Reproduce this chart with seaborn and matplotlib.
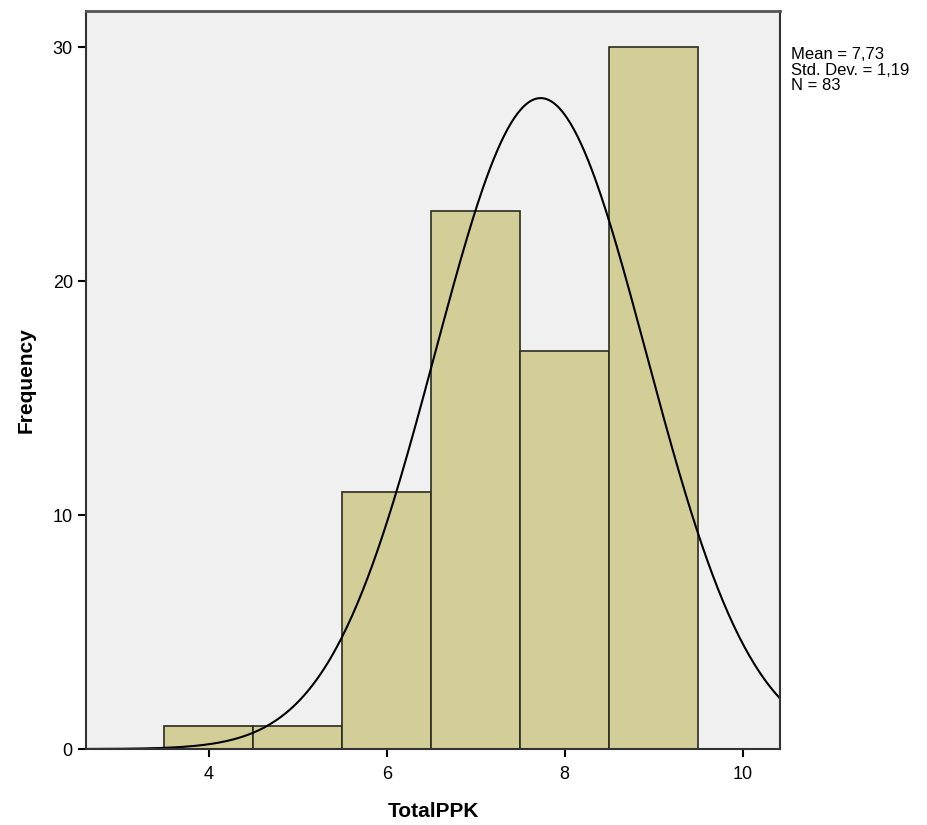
import numpy as np
import pandas as pd
import matplotlib
matplotlib.use("Agg")
import matplotlib.pyplot as plt
import seaborn as sns

# histogram of TotalPPK
bin_centers = [4, 5, 6, 7, 8, 9]
counts = [1, 1, 11, 23, 17, 30]
mean_val = 7.73
sd_val = 1.19
n_val = 83
x_ticks = [4, 6, 8, 10]
y_ticks = [0, 10, 20, 30]

sns.set_style("ticks")
plt.rcParams['font.family'] = ['Liberation Sans', 'DejaVu Sans']

df = pd.DataFrame({"TotalPPK": bin_centers, "count": counts})

fig = plt.figure(figsize=(9.28, 8.25), dpi=100)
ax = fig.add_axes([0.0927, 0.0921, 0.7478, 0.8946])
ax.set_facecolor("#F0F0F0")

sns.histplot(data=df, x="TotalPPK", weights="count", discrete=True,
             color="#D3CE97", edgecolor="#2b2b1e", linewidth=1.2, alpha=1, ax=ax)

# normal curve scaled to counts (bin width 1)
xs = np.linspace(2.6, 10.45, 400)
ys = n_val / (sd_val * np.sqrt(2 * np.pi)) * np.exp(-0.5 * ((xs - mean_val) / sd_val) ** 2)
sns.lineplot(x=xs, y=ys, color="black", linewidth=1.5, ax=ax)

ax.set_xlim(2.62, 10.42)
ax.set_ylim(0, 31.55)
ax.set_xticks(x_ticks)
ax.set_yticks(y_ticks)
ax.tick_params(axis="both", direction="out", length=6, width=1.5, labelsize=13,
               colors="black")
ax.tick_params(axis="x", pad=6)
for s in ["left", "bottom", "right"]:
    ax.spines[s].set_color("#333333")
    ax.spines[s].set_linewidth(1.5)
ax.spines["top"].set_color("#555555")
ax.spines["top"].set_linewidth(2)

ax.set_xlabel("TotalPPK", fontsize=15, fontweight="bold", labelpad=14, color="black")
ax.set_ylabel("Frequency", fontsize=15, fontweight="bold", labelpad=12, color="black")

fig.text(791 / 928, 1 - 47 / 825,
         "Mean = 7,73\nStd. Dev. = 1,19\nN = 83",
         fontsize=12, va="top", ha="left", linespacing=1.05, color="black")

fig.savefig("out.png", dpi=100)
